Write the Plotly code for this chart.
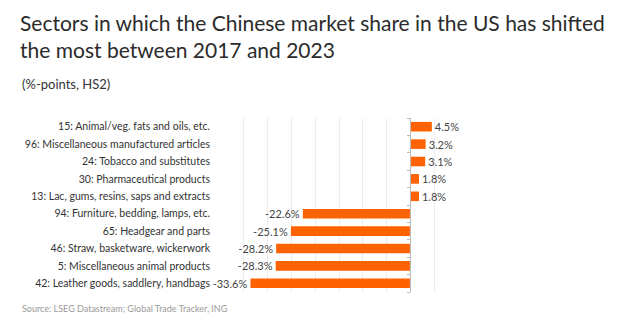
import plotly.graph_objects as go

categories = [
    "15: Animal/veg. fats and oils, etc.",
    "96: Miscellaneous manufactured articles",
    "24: Tobacco and substitutes",
    "30: Pharmaceutical products",
    "13: Lac, gums, resins, saps and extracts",
    "94: Furniture, bedding, lamps, etc.",
    "65: Headgear and parts",
    "46: Straw, basketware, wickerwork",
    "5: Miscellaneous animal products",
    "42: Leather goods, saddlery, handbags",
]
values = [4.5, 3.2, 3.1, 1.8, 1.8, -22.6, -25.1, -28.2, -28.3, -33.6]
labels = [f"{v:.1f}%" for v in values]

ORANGE = "#FF6200"
FONT = "Lato"
W, H = 624, 326
L, R, T, B = 220, 166, 118, 34
pw, ph = W - L - R, H - T - B

def px(x):
    return (x - L) / pw

def py(y):
    return (H - B - y) / ph

fig = go.Figure()
fig.add_trace(go.Bar(
    x=values, y=categories, orientation="h",
    marker=dict(color=ORANGE, line=dict(width=0)),
    text=labels, textposition="outside", cliponaxis=False,
    constraintext="none",
    textfont=dict(family=FONT, size=11, color="#444444"),
    hoverinfo="skip",
))
# invisible trace carrying the zero-line axis with ticks
fig.add_trace(go.Bar(x=[0] * len(categories), y=categories, orientation="h",
                     yaxis="y2", marker=dict(color="rgba(0,0,0,0)"),
                     showlegend=False, hoverinfo="skip"))

fig.update_layout(
    width=W, height=H, margin=dict(l=L, r=R, t=T, b=B, autoexpand=False),
    paper_bgcolor="white", plot_bgcolor="white",
    showlegend=False, bargap=0.45,
    font=dict(family=FONT, color="#333333"),
    xaxis=dict(range=[-40, 10], dtick=5, showgrid=True, gridcolor="#ececec",
               gridwidth=1, showticklabels=False, zeroline=False, ticks="",
               showline=False, fixedrange=True, automargin=False),
    yaxis=dict(categoryorder="array", categoryarray=categories[::-1],
               showgrid=False, ticks="", showline=False, automargin=False,
               tickfont=dict(family=FONT, size=10.5, color="#333333"),
               ticklabelstandoff=9, fixedrange=True),
    yaxis2=dict(overlaying="y", anchor="free", position=0.8, side="left",
                categoryorder="array", categoryarray=categories[::-1],
                showticklabels=False, showgrid=False, showline=True,
                linecolor="#bbbbbb", linewidth=1, ticks="outside",
                tickson="boundaries", ticklen=3, tickcolor="#bbbbbb",
                fixedrange=True, automargin=False),
    annotations=[
        dict(text="Sectors in which the Chinese market share in the US has shifted<br>the most between 2017 and 2023",
             xref="paper", yref="paper", x=px(18), y=py(8),
             xanchor="left", yanchor="top", align="left", showarrow=False,
             font=dict(family=FONT, size=21, color="#2b2b2b")),
        dict(text="(%-points, HS2)", xref="paper", yref="paper",
             x=px(20), y=py(84), xanchor="left", yanchor="middle",
             showarrow=False, font=dict(family=FONT, size=13, color="#333333")),
        dict(text="Source: LSEG Datastream; Global Trade Tracker, ING",
             xref="paper", yref="paper", x=px(20), y=py(308),
             xanchor="left", yanchor="middle", showarrow=False,
             font=dict(family=FONT, size=9, color="#999999")),
    ],
)

fig.write_html("out.html")
